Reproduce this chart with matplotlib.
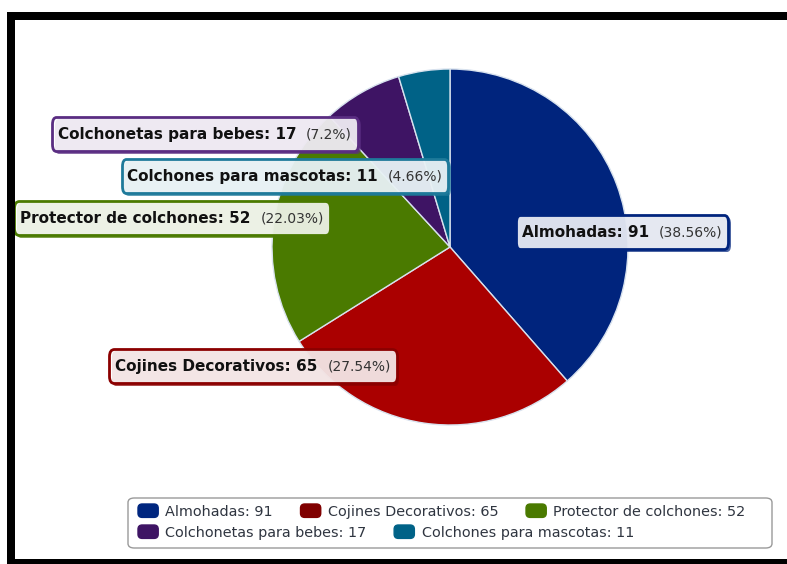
import matplotlib.pyplot as plt
from matplotlib.patches import Rectangle, FancyBboxPatch, Patch
from matplotlib.offsetbox import TextArea, HPacker, AnnotationBbox
from matplotlib.legend_handler import HandlerPatch
import matplotlib.patheffects as pe

categorias = ["Almohadas", "Cojines Decorativos", "Protector de colchones",
              "Colchonetas para bebes", "Colchones para mascotas"]
valores = [91, 65, 52, 17, 11]
colores_pie = ["#00247D", "#AA0000", "#4A7A00", "#3E1464", "#006287"]
colores_leyenda = ["#00267F", "#800000", "#4A7A00", "#3E1464", "#006287"]
bordes = ["#00247D", "#8B0000", "#4A7A00", "#5A2D82", "#1E7A9A"]
# label centres, in pixels of the 787x564 picture
pos_etiquetas = [(622, 232), (253, 366), (172, 218), (205, 134), (285, 176)]

W, H = 787, 564
cx, cy, r = 450, 247, 178

fig = plt.figure(figsize=(W / 100, H / 100), dpi=100)
ax = fig.add_axes([0, 0, 1, 1])


def px(x, y):
    return (x - cx) / r, (cy - y) / r


ax.pie(valores, colors=colores_pie, startangle=90, counterclock=False, radius=1,
       wedgeprops=dict(edgecolor="#d8e2ee", linewidth=1))
ax.set_xlim(-cx / r, (W - cx) / r)
ax.set_ylim(-(H - cy) / r, cy / r)
ax.axis("off")

total = sum(valores)
for cat, v, borde, pos in zip(categorias, valores, bordes, pos_etiquetas):
    pct = "{:g}".format(round(v / total * 100, 2))
    t1 = TextArea(f"{cat}: {v}", textprops=dict(fontsize=11, fontweight="bold", color="#111111"))
    t2 = TextArea(f"({pct}%)", textprops=dict(fontsize=10, color="#333333"))
    caja = HPacker(children=[t1, t2], align="baseline", pad=0, sep=7)
    ab = AnnotationBbox(caja, px(*pos), xycoords="data", frameon=True,
                        box_alignment=(0.5, 0.5),
                        bboxprops=dict(boxstyle="round,pad=0.42,rounding_size=0.3",
                                       mutation_aspect=1.7,
                                       fc=(1, 1, 1, 0.86), ec=borde, lw=2))
    ab.patch.set_path_effects([pe.withSimplePatchShadow(offset=(2, -2), shadow_rgbFace=borde, alpha=0.7)])
    ax.add_artist(ab)

# legend frame
fig.patches.append(FancyBboxPatch((128 / W, 1 - 548 / H), (772 - 128) / W, (548 - 498) / H,
                                  boxstyle="round,pad=0,rounding_size=0.008",
                                  transform=fig.transFigure, fc="white", ec="#9a9a9a", lw=1))


def cuadro(legend, orig_handle, xdescent, ydescent, width, height, fontsize):
    return FancyBboxPatch((-xdescent, -ydescent), width, height,
                          boxstyle="round,pad=0,rounding_size=3")


handles = [Patch(facecolor=c, edgecolor=c) for c in colores_leyenda]
etiquetas = [f"{c}: {v}" for c, v in zip(categorias, valores)]
ley = dict(loc="upper left", frameon=False, fontsize=10.4, handlelength=1.4, handleheight=1.05,
           handletextpad=0.5, columnspacing=1.9, borderpad=0, borderaxespad=0,
           labelcolor="#2f3540", handler_map={Patch: HandlerPatch(patch_func=cuadro)})
fig.legend(handles[:3], etiquetas[:3], ncol=3, bbox_to_anchor=(138 / W, 1 - 504 / H), **ley)
fig.legend(handles[3:], etiquetas[3:], ncol=2, bbox_to_anchor=(138 / W, 1 - 525 / H), **ley)

# black frame around the picture
for x0, y0, x1, y1 in [(7, 12, 787, 20), (7, 12, 15, 564), (7, 559, 787, 564)]:
    fig.patches.append(Rectangle((x0 / W, 1 - y1 / H), (x1 - x0) / W, (y1 - y0) / H,
                                 transform=fig.transFigure, fc="black", ec="none"))

fig.savefig("out.png", dpi=100)
